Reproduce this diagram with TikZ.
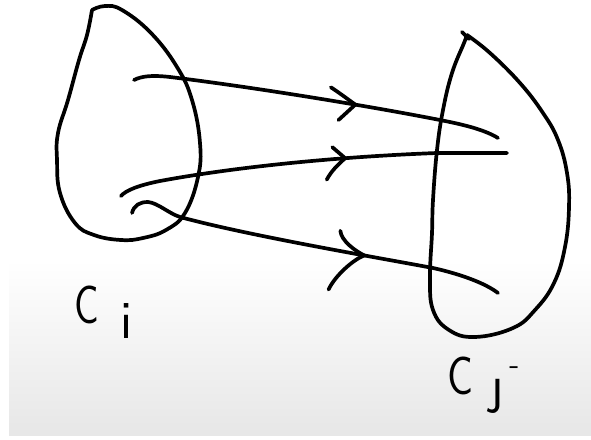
\documentclass[tikz,border=0pt]{standalone}
\usetikzlibrary{decorations.markings}
\begin{document}
\begin{tikzpicture}[x=1pt,y=-1pt,line cap=round,line join=round,
  ink/.style={line width=3.7pt,black},
  lbl/.style={font=\sffamily\fontsize{54}{54}\selectfont,inner sep=0pt,outer sep=0pt},
  chevtop/.style={postaction={decorate,decoration={markings,
    mark=at position 224pt with {\draw[ink] (-27pt,13pt) .. controls (-20pt,10pt) and (-8pt,4pt) .. (0pt,0pt) -- (-14pt,-18pt);}}}},
  chevmid/.style={postaction={decorate,decoration={markings,
    mark=at position 229pt with {\draw[ink] (-12pt,12pt) -- (0pt,0pt) .. controls (-8pt,-6pt) and (-15pt,-12pt) .. (-20pt,-20pt);}}}},
  chevbot/.style={postaction={decorate,decoration={markings,
    mark=at position 245pt with {\draw[ink] (-28pt,20pt) .. controls (-25pt,10pt) and (-10pt,3pt) .. (0pt,0pt) .. controls (-10pt,-6pt) and (-25pt,-25pt) .. (-29pt,-40pt);}}}},
]
\useasboundingbox (0,0) rectangle (591,439);
\fill[white] (0,0) rectangle (591,439);
\shade[top color=white,bottom color=gray!19] (9,260) rectangle (591,435);

% left loop
\draw[ink] plot[smooth,tension=0.7] coordinates {(92,10) (105,6) (122,10) (151,33) (177,67) (192,100) (200,143) (198,177) (185,213) (166,230) (143,238) (121,240) (94,235) (75,223) (60,193) (57,160) (58,133) (68,100) (79,60) (87,35) (92,10)};

% right loop
\draw[ink] plot[smooth,tension=0.7] coordinates {(467,35) (490,53) (520,83) (543,113) (558,140) (567,173) (569,207) (565,247) (554,283) (535,310) (513,328) (475,337) (449,330) (433,310) (430,277) (432,233) (433,200) (437,150) (443,110) (452,73) (464,43) (467,35)};
\draw[ink] (462,32) -- (469,39);

% arrow end points
\coordinate (a1s) at (134,80);
\coordinate (a1e) at (498,138);
\coordinate (a2s) at (121,196);
\coordinate (a2e) at (507,153);
\coordinate (a3s) at (132,213);
\coordinate (a3e) at (498,293);

\draw[ink,chevtop] (a1s) .. controls (142,76) and (152,75) .. (170,77)
   .. controls (260,88) and (380,108) .. (445,121)
   .. controls (465,125) and (485,130) .. (a1e);
\draw[ink,chevmid] (a2s) .. controls (126,190) and (140,185) .. (160,181)
   .. controls (230,168) and (330,157) .. (437,153) -- (a2e);
\draw[ink,chevbot] (a3s) .. controls (134,205) and (140,202) .. (148,202)
   .. controls (158,203) and (168,213) .. (180,217)
   .. controls (250,236) and (380,258) .. (433,268)
   .. controls (460,274) and (485,283) .. (a3e);

% labels
\node[lbl,anchor=base west] (ci) at (74,323) {\scalebox{0.76}[1]{C}\hspace{22pt}\raisebox{-15pt}{i}};
\node[lbl,anchor=base west] (cj) at (447,394) {\scalebox{0.8}[1]{C}\hspace{18pt}\raisebox{-8pt}{\j}\hspace{5pt}\raisebox{20pt}{\fontsize{32}{32}\selectfont -}};
\end{tikzpicture}
\end{document}
